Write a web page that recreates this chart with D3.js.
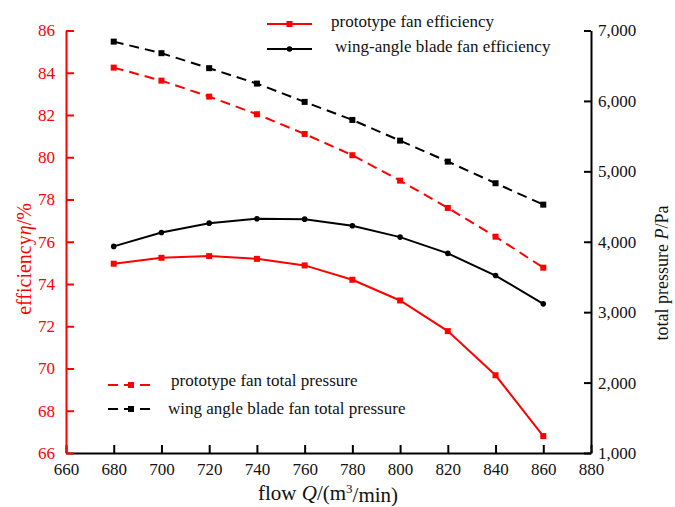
<!DOCTYPE html>
<html>
<head>
<meta charset="utf-8">
<script src="https://cdn.jsdelivr.net/npm/d3@7"></script>
<style>
  body { margin: 0; background: #fff; }
  svg { font-family: "Liberation Serif", "Times New Roman", serif; }
</style>
</head>
<body>
<svg id="chart" width="675" height="507"></svg>
<script>
// ---- data ----
const flow = [680, 700, 720, 740, 760, 780, 800, 820, 840, 860];
const protoEff = [74.96, 75.24, 75.32, 75.19, 74.88, 74.2, 73.22, 71.77, 69.68, 66.8];
const wingEff = [75.78, 76.44, 76.88, 77.09, 77.07, 76.76, 76.22, 75.45, 74.4, 73.06];
const protoP = [6473, 6288, 6061, 5811, 5531, 5229, 4868, 4480, 4072, 3632];
const wingP = [6842, 6678, 6465, 6246, 5986, 5730, 5436, 5138, 4831, 4527];
const xTicks = [660, 680, 700, 720, 740, 760, 780, 800, 820, 840, 860, 880];
const effTicks = [66, 68, 70, 72, 74, 76, 78, 80, 82, 84, 86];
const pTicks = [1000, 2000, 3000, 4000, 5000, 6000, 7000];
const legendTop = ["prototype fan efficiency", "wing-angle blade fan efficiency"];
const legendBottom = ["prototype fan total pressure", "wing angle blade fan total pressure"];

// ---- layout ----
const svg = d3.select("#chart");
const L = 66, R = 591, T = 30.5, B = 453;
const RED = "#ff0000", BLACK = "#000";
const FONT = "Liberation Serif";

const x = d3.scaleLinear().domain([660, 880]).range([L, R]);
const yE = d3.scaleLinear().domain([66, 86]).range([B, T]);
const yP = d3.scaleLinear().domain([1000, 7000]).range([B, T]);

// axes
const gx = svg.append("g").attr("transform", `translate(0,${B})`)
  .call(d3.axisBottom(x).tickValues(xTicks).tickSizeInner(-8).tickSizeOuter(0).tickPadding(10).tickFormat(d3.format("d")));
gx.attr("font-family", FONT);
gx.select(".domain").attr("stroke", BLACK).attr("stroke-width", 2);
gx.selectAll(".tick line").attr("stroke", BLACK).attr("stroke-width", 2);
gx.selectAll(".tick text").attr("font-size", 17).attr("fill", "#111");

const gl = svg.append("g").attr("transform", `translate(${L},0)`)
  .call(d3.axisLeft(yE).tickValues(effTicks).tickSizeInner(-8).tickSizeOuter(0).tickPadding(11).tickFormat(d3.format("d")));
gl.attr("font-family", FONT);
gl.select(".domain").attr("stroke", RED).attr("stroke-width", 2);
gl.selectAll(".tick line").attr("stroke", RED).attr("stroke-width", 2);
gl.selectAll(".tick text").attr("font-size", 17).attr("fill", RED);

const gr = svg.append("g").attr("transform", `translate(${R},0)`)
  .call(d3.axisRight(yP).tickValues(pTicks).tickSizeInner(-7).tickSizeOuter(0).tickPadding(7).tickFormat(d3.format(",")));
gr.attr("font-family", FONT);
gr.select(".domain").attr("stroke", BLACK).attr("stroke-width", 2);
gr.selectAll(".tick line").attr("stroke", BLACK).attr("stroke-width", 2);
gr.selectAll(".tick text").attr("font-size", 17).attr("fill", "#111");

// series
function series(vals, yScale, color, dashed, marker) {
  const pts = flow.map((f, i) => [x(f), yScale(vals[i])]);
  const line = d3.line();
  svg.append("path").attr("d", line(pts)).attr("fill", "none")
    .attr("stroke", color).attr("stroke-width", 2)
    .attr("stroke-dasharray", dashed ? "10,6" : null);
  drawMarkers(pts, color, marker);
}
function drawMarkers(pts, color, marker) {
  if (marker === "square") {
    svg.append("g").selectAll("rect").data(pts).join("rect")
      .attr("x", d => d[0] - 3).attr("y", d => d[1] - 3)
      .attr("width", 6).attr("height", 6).attr("fill", color);
  } else {
    svg.append("g").selectAll("circle").data(pts).join("circle")
      .attr("cx", d => d[0]).attr("cy", d => d[1]).attr("r", 2.8).attr("fill", color);
  }
}
series(protoP, yP, RED, true, "square");
series(wingP, yP, BLACK, true, "square");
series(protoEff, yE, RED, false, "square");
series(wingEff, yE, BLACK, false, "circle");

// legends
function legendItem(x1, x2, y, color, dashed, marker, label, tx, ty) {
  svg.append("line").attr("x1", x1).attr("x2", x2).attr("y1", y).attr("y2", y)
    .attr("stroke", color).attr("stroke-width", 2)
    .attr("stroke-dasharray", dashed ? "10,6" : null);
  drawMarkers([[(x1 + x2) / 2, y]], color, marker);
  svg.append("text").attr("x", tx).attr("y", ty).attr("dy", "0.35em")
    .attr("font-size", 17).attr("fill", "#111").text(label);
}
legendItem(267, 312, 24, RED, false, "square", legendTop[0], 331, 21.5);
legendItem(267, 312, 49, BLACK, false, "circle", legendTop[1], 335, 46.5);
legendItem(108, 154, 385, RED, true, "square", legendBottom[0], 171, 380);
legendItem(108, 154, 409, BLACK, true, "square", legendBottom[1], 168, 408);

// axis titles
const xt = svg.append("text").attr("x", 328).attr("y", 493).attr("dy", "0.35em")
  .attr("text-anchor", "middle").attr("font-size", 21).attr("fill", "#111");
xt.append("tspan").text("flow ");
xt.append("tspan").attr("font-style", "italic").text("Q");
xt.append("tspan").text("/(m");
xt.append("tspan").attr("font-size", 13).attr("dy", "-0.6em").text("3");
xt.append("tspan").attr("dy", "0.45em").text("/min)");

const lt = svg.append("text").attr("transform", "translate(24,259) rotate(-90)")
  .attr("dy", "0.35em").attr("text-anchor", "middle").attr("font-size", 20).attr("fill", RED);
lt.append("tspan").text("efficiency");
lt.append("tspan").attr("font-style", "italic").text("η");
lt.append("tspan").text("/%");

const rt = svg.append("text").attr("transform", "translate(662,273) rotate(-90)")
  .attr("dy", "0.35em").attr("text-anchor", "middle").attr("font-size", 18).attr("fill", "#111");
rt.append("tspan").text("total pressure ");
rt.append("tspan").attr("font-style", "italic").text("P");
rt.append("tspan").text("/Pa");
</script>
</body>
</html>
